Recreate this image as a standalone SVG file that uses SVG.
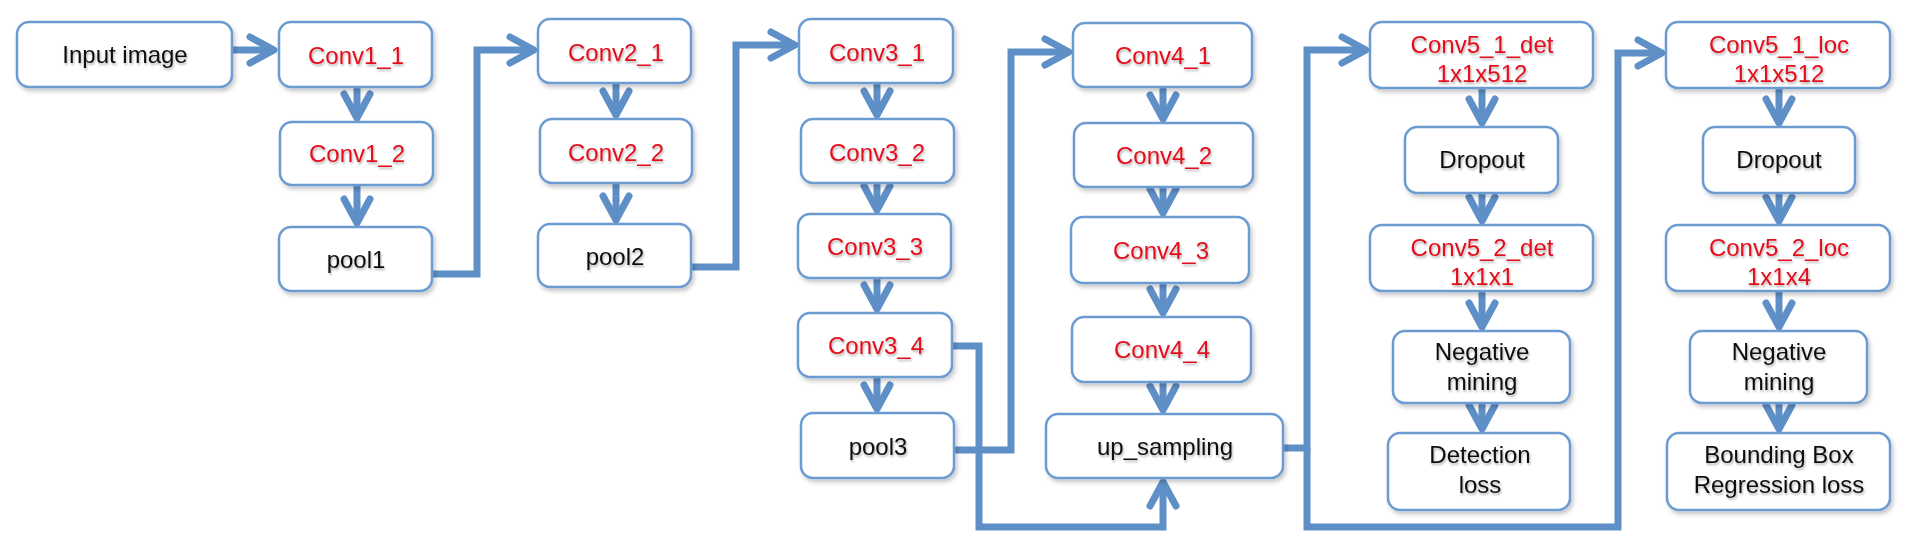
<svg xmlns="http://www.w3.org/2000/svg" width="1910" height="542" viewBox="0 0 1910 542">
<style>
.box{fill:#fff;stroke:#6b9bd1;stroke-width:2.5;filter:url(#sh)}
.t{font-family:"Liberation Sans",Arial,sans-serif;font-size:24px;text-anchor:middle;filter:url(#tsh)}
.r{fill:#e3101e}
.k{fill:#111}
.c{fill:none;stroke:#5e8fc6;stroke-width:7;stroke-linejoin:miter;stroke-linecap:butt;marker-end:url(#ah)}
</style>
<defs>
<filter id="sh" x="-10%" y="-20%" width="130%" height="150%">
<feDropShadow dx="2" dy="3" stdDeviation="2" flood-color="#000" flood-opacity="0.22"/>
</filter>
<filter id="tsh" x="-10%" y="-30%" width="130%" height="170%">
<feDropShadow dx="1" dy="2" stdDeviation="1.2" flood-color="#000" flood-opacity="0.3"/>
</filter>
<marker id="ah" markerUnits="userSpaceOnUse" markerWidth="40" markerHeight="40" viewBox="-30 -20 40 40" refX="0" refY="0" orient="auto" overflow="visible">
<path d="M-24,-13 L0,0 L-24,13" fill="none" stroke="#5e8fc6" stroke-width="7" stroke-linecap="round" stroke-linejoin="round"/>
</marker>
</defs>

<g id="connectors">
<path class="c" d="M232,50 H274"/>
<path class="c" d="M357,87 V118"/>
<path class="c" d="M357,185 V223"/>
<path class="c" d="M432,274 H477 V50 H534"/>
<path class="c" d="M616,83 V115"/>
<path class="c" d="M616,183 V220"/>
<path class="c" d="M691,267 H736 V45 H795"/>
<path class="c" d="M877,83 V115"/>
<path class="c" d="M877,183 V210"/>
<path class="c" d="M877,278 V309"/>
<path class="c" d="M877,377 V409"/>
<path class="c" d="M954,450 H1011 V52 H1069"/>
<path class="c" d="M952,346 H979 V527 H1163 V482"/>
<path class="c" d="M1163,87 V119"/>
<path class="c" d="M1163,187 V213"/>
<path class="c" d="M1163,283 V313"/>
<path class="c" d="M1163,382 V410"/>
<path class="c" d="M1283,448 H1307 V50 H1366"/>
<path class="c" d="M1307,448 V527 H1618 V53 H1662"/>
<path class="c" d="M1482,88 V123"/>
<path class="c" d="M1482,193 V221"/>
<path class="c" d="M1482,291 V327"/>
<path class="c" d="M1482,403 V429"/>
<path class="c" d="M1779,88 V123"/>
<path class="c" d="M1779,193 V221"/>
<path class="c" d="M1779,291 V327"/>
<path class="c" d="M1779,403 V429"/>
</g>

<g id="input"><rect class="box" x="17" y="22" width="215" height="65" rx="12"/><text class="t k" x="125" y="63">Input image</text></g>
<g id="conv1_1"><rect class="box" x="279" y="22" width="153" height="65" rx="12"/><text class="t r" x="356" y="64">Conv1_1</text></g>
<g id="conv1_2"><rect class="box" x="280" y="122" width="153" height="63" rx="12"/><text class="t r" x="357" y="162">Conv1_2</text></g>
<g id="pool1"><rect class="box" x="279" y="227" width="153" height="64" rx="12"/><text class="t k" x="356" y="268">pool1</text></g>

<g id="conv2_1"><rect class="box" x="538" y="19" width="153" height="64" rx="12"/><text class="t r" x="616" y="61">Conv2_1</text></g>
<g id="conv2_2"><rect class="box" x="540" y="119" width="152" height="64" rx="12"/><text class="t r" x="616" y="161">Conv2_2</text></g>
<g id="pool2"><rect class="box" x="538" y="224" width="153" height="63" rx="12"/><text class="t k" x="615" y="265">pool2</text></g>

<g id="conv3_1"><rect class="box" x="799" y="19" width="154" height="64" rx="12"/><text class="t r" x="877" y="61">Conv3_1</text></g>
<g id="conv3_2"><rect class="box" x="801" y="119" width="153" height="64" rx="12"/><text class="t r" x="877" y="161">Conv3_2</text></g>
<g id="conv3_3"><rect class="box" x="798" y="214" width="153" height="64" rx="12"/><text class="t r" x="875" y="255">Conv3_3</text></g>
<g id="conv3_4"><rect class="box" x="798" y="313" width="154" height="64" rx="12"/><text class="t r" x="876" y="354">Conv3_4</text></g>
<g id="pool3"><rect class="box" x="801" y="413" width="153" height="65" rx="12"/><text class="t k" x="878" y="455">pool3</text></g>

<g id="conv4_1"><rect class="box" x="1073" y="23" width="179" height="64" rx="12"/><text class="t r" x="1163" y="64">Conv4_1</text></g>
<g id="conv4_2"><rect class="box" x="1074" y="123" width="179" height="64" rx="12"/><text class="t r" x="1164" y="164">Conv4_2</text></g>
<g id="conv4_3"><rect class="box" x="1071" y="217" width="178" height="66" rx="12"/><text class="t r" x="1161" y="259">Conv4_3</text></g>
<g id="conv4_4"><rect class="box" x="1072" y="317" width="179" height="65" rx="12"/><text class="t r" x="1162" y="358">Conv4_4</text></g>
<g id="up_sampling"><rect class="box" x="1046" y="414" width="237" height="64" rx="12"/><text class="t k" x="1165" y="455">up_sampling</text></g>

<g id="conv5_1_det"><rect class="box" x="1370" y="22" width="223" height="66" rx="12"/><text class="t r" x="1482" y="53">Conv5_1_det</text><text class="t r" x="1482" y="82">1x1x512</text></g>
<g id="dropout_det"><rect class="box" x="1405" y="127" width="153" height="66" rx="12"/><text class="t k" x="1482" y="168">Dropout</text></g>
<g id="conv5_2_det"><rect class="box" x="1370" y="225" width="223" height="66" rx="12"/><text class="t r" x="1482" y="256">Conv5_2_det</text><text class="t r" x="1482" y="285">1x1x1</text></g>
<g id="neg_det"><rect class="box" x="1393" y="331" width="177" height="72" rx="12"/><text class="t k" x="1482" y="360">Negative</text><text class="t k" x="1482" y="390">mining</text></g>
<g id="det_loss"><rect class="box" x="1388" y="433" width="182" height="77" rx="12"/><text class="t k" x="1480" y="463">Detection</text><text class="t k" x="1480" y="493">loss</text></g>

<g id="conv5_1_loc"><rect class="box" x="1666" y="22" width="224" height="66" rx="12"/><text class="t r" x="1779" y="53">Conv5_1_loc</text><text class="t r" x="1779" y="82">1x1x512</text></g>
<g id="dropout_loc"><rect class="box" x="1703" y="127" width="152" height="66" rx="12"/><text class="t k" x="1779" y="168">Dropout</text></g>
<g id="conv5_2_loc"><rect class="box" x="1666" y="225" width="224" height="66" rx="12"/><text class="t r" x="1779" y="256">Conv5_2_loc</text><text class="t r" x="1779" y="285">1x1x4</text></g>
<g id="neg_loc"><rect class="box" x="1690" y="331" width="177" height="72" rx="12"/><text class="t k" x="1779" y="360">Negative</text><text class="t k" x="1779" y="390">mining</text></g>
<g id="bbox_loss"><rect class="box" x="1667" y="433" width="223" height="77" rx="12"/><text class="t k" x="1779" y="463">Bounding Box</text><text class="t k" x="1779" y="493">Regression loss</text></g>
</svg>
